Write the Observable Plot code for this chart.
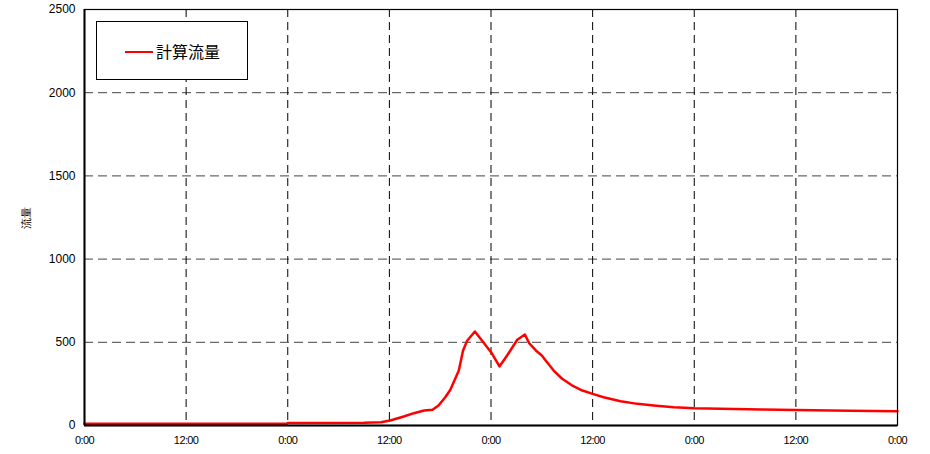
<!DOCTYPE html>
<html>
<head>
<meta charset="utf-8">
<script src="https://cdn.jsdelivr.net/npm/d3@7"></script>
<script src="https://cdn.jsdelivr.net/npm/@observablehq/plot@0.6"></script>
<style>
  html, body { margin: 0; padding: 0; background: #fff; }
  #wrap { position: relative; width: 930px; height: 454px; }
  #legend {
    position: absolute; left: 96px; top: 21px; width: 150px; height: 57px;
    border: 1px solid #000; background: #fff; box-sizing: content-box;
  }
  #legend .sw { position: absolute; left: 28px; top: 29px; width: 28px; height: 0; border-top: 2.5px solid #ff0000; }
  #legend .tx { position: absolute; left: 59px; top: 18px; font: 16px "Noto Sans CJK JP", "Noto Sans", sans-serif; line-height: 22px; color: #000; }
</style>
</head>
<body>
<div id="wrap">
  <div id="chart"></div>
  <div id="legend"><div class="sw"></div><div class="tx">計算流量</div></div>
</div>
<script>
// time in hours from start, and computed flow (流量)
const hours = [0, 12, 23.9, 24, 33.0, 35.0, 36.1, 37.7, 38.9, 40.1, 41.1, 41.8, 42.6, 43.2, 44.2, 44.7, 45.2, 46.1, 48.1, 49.0, 49.9, 51.1, 52.0, 52.5, 53.3, 54.0, 54.6, 55.4, 56.4, 57.6, 58.8, 60.0, 61.3, 63.3, 65.3, 67.2, 69.6, 72.0, 75.1, 80, 84, 90.4, 96];
const flow  = [11, 11, 11, 15, 16, 20, 30, 54, 74, 90, 94, 120, 170, 215, 330, 451, 511, 565, 434, 355, 421, 515, 547, 495, 451, 421, 381, 330, 281, 240, 210, 190, 170, 146, 130, 120, 110, 104, 100, 96, 93, 89, 86];
const xTicks = [0, 12, 24, 36, 48, 60, 72, 84, 96];
const yTicks = [0, 500, 1000, 1500, 2000, 2500];
const seriesName = "計算流量";
const yLabel = "流量";

const data = hours.map((h, i) => ({h, v: flow[i]}));

const chart = Plot.plot({
  width: 930, height: 454,
  marginLeft: 84, marginRight: 33, marginTop: 9, marginBottom: 29,
  style: {fontFamily: "'Liberation Sans', Arial, sans-serif", fontSize: "12px", color: "#000", background: "#fff"},
  x: {domain: [0, 96]},
  y: {domain: [0, 2500]},
  marks: [
    Plot.ruleY(yTicks.slice(1, -1), {stroke: "#444", strokeDasharray: "9,5", strokeWidth: 1}),
    Plot.ruleX(xTicks.slice(1, -1), {stroke: "#000", strokeDasharray: "8,5", strokeWidth: 1}),
    Plot.line(data, {x: "h", y: "v", stroke: "#ff0000", strokeWidth: 2.5}),
    Plot.frame({stroke: "#000", strokeWidth: 1.2}),
    Plot.ruleY([0], {stroke: "#000", strokeWidth: 2}),
    Plot.ruleX([0], {stroke: "#000", strokeWidth: 2}),
    Plot.axisX({ticks: xTicks, tickFormat: h => `${h % 24}:00`, tickSize: 0, tickPadding: 11, fontSize: 11, label: null}),
    Plot.axisY({ticks: yTicks, tickFormat: d3.format("d"), tickSize: 0, tickPadding: 9, fontSize: 12, label: null}),
    Plot.axisY({ticks: [], tickSize: 0, label: yLabel, labelAnchor: "center", labelArrow: "none", labelOffset: 62, fontSize: 11})
  ]
});
chart.querySelectorAll("[aria-label='x-axis tick label'] text").forEach(t => t.setAttribute("letter-spacing", "-0.6"));
document.getElementById("chart").appendChild(chart);
</script>
</body>
</html>
